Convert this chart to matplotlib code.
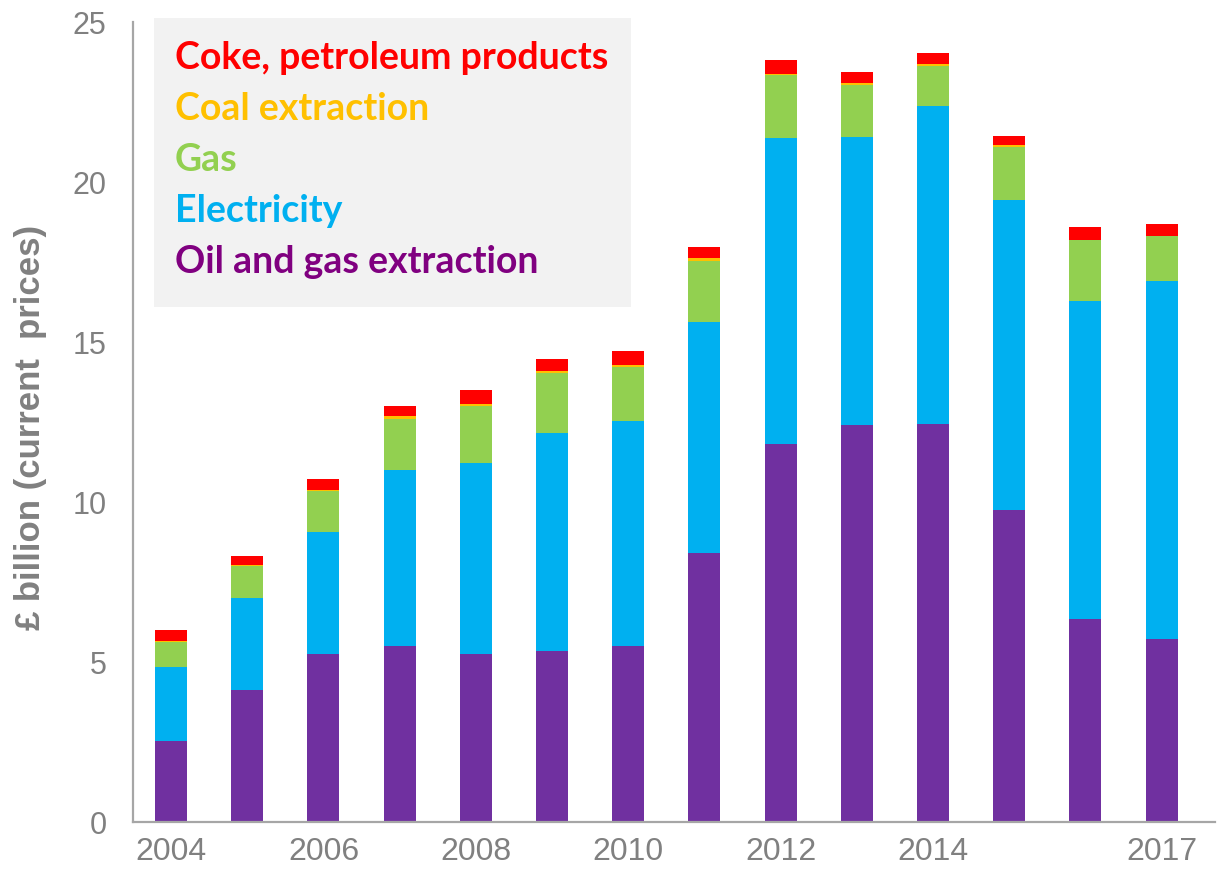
import matplotlib
matplotlib.use("Agg")
import matplotlib.pyplot as plt
from matplotlib.patches import Rectangle
import numpy as np

years = [2004, 2005, 2006, 2007, 2008, 2009, 2010,
         2011, 2012, 2013, 2014, 2015, 2016, 2017]
tick_years = ["2004", "", "2006", "", "2008", "", "2010",
              "", "2012", "", "2014", "", "", "2017"]

# £ billion, current prices
oil_gas = [2.54, 4.14, 5.25, 5.50, 5.25, 5.33, 5.50,
           8.42, 11.81, 12.40, 12.44, 9.74, 6.33, 5.71]
electricity = [2.31, 2.86, 3.82, 5.50, 5.97, 6.82, 7.03,
               7.21, 9.56, 9.01, 9.94, 9.69, 9.94, 11.19]
gas = [0.77, 0.99, 1.26, 1.59, 1.78, 1.88, 1.68,
       1.90, 1.97, 1.63, 1.25, 1.67, 1.91, 1.40]
coal = [0.04, 0.05, 0.05, 0.11, 0.06, 0.07, 0.08,
        0.08, 0.04, 0.04, 0.05, 0.05, 0.02, 0.02]
coke_petroleum = [0.34, 0.28, 0.33, 0.30, 0.43, 0.36, 0.43,
                  0.35, 0.43, 0.35, 0.34, 0.30, 0.38, 0.36]

series = [
    ("Oil and gas extraction", oil_gas, "#7030a0", "#800080"),
    ("Electricity", electricity, "#00b0f0", "#00b0f0"),
    ("Gas", gas, "#92d050", "#92d050"),
    ("Coal extraction", coal, "#ffc000", "#ffc000"),
    ("Coke, petroleum products", coke_petroleum, "#ff0000", "#ff0000"),
]

W, H = 1220, 869
fig = plt.figure(figsize=(W / 100, H / 100), dpi=100)
ax = fig.add_axes([133 / W, (H - 822) / H, (1215 - 133) / W, (822 - 22) / H])

x = np.arange(len(years))
bottom = np.zeros(len(years))
for name, vals, color, _ in series:
    vals = np.array(vals)
    ax.bar(x, vals, width=0.42, bottom=bottom, color=color,
           edgecolor="none", zorder=2)
    bottom += vals

ax.set_ylim(0, 25)
ax.set_xlim(-0.5, 13.7)
ax.set_yticks([0, 5, 10, 15, 20, 25])
ax.set_xticks(x)
ax.set_xticklabels(tick_years)

grey = "#808080"
for side in ("top", "right"):
    ax.spines[side].set_visible(False)
for side in ("left", "bottom"):
    ax.spines[side].set_color("#a6a6a6")
    ax.spines[side].set_linewidth(1.6)

ax.tick_params(axis="both", length=0, labelcolor=grey)
ax.tick_params(axis="y", pad=19, labelsize=22)
ax.tick_params(axis="x", pad=11, labelsize=23)
for lbl in ax.get_xticklabels() + ax.get_yticklabels():
    lbl.set_fontfamily("Liberation Sans")

fig.text(31 / W, 1 - 427 / H, "£ billion (current  prices)", rotation=90,
         ha="center", va="center", color=grey, fontsize=25,
         fontweight="bold", family="Liberation Sans")

# Key panel
fig.patches.append(Rectangle((154 / W, 1 - 307 / H), (631 - 154) / W,
                             (307 - 18) / H, transform=fig.transFigure,
                             facecolor="#f2f2f2", edgecolor="none", zorder=3))
baselines = [69, 120, 171, 222, 273]
for (name, _, _, tcolor), yb in zip(reversed(series), baselines):
    fig.text(175 / W, 1 - yb / H, name, color=tcolor, fontsize=27,
             fontweight="bold", family="Lato", va="baseline", ha="left",
             zorder=4)

fig.savefig("out.png", dpi=100)
